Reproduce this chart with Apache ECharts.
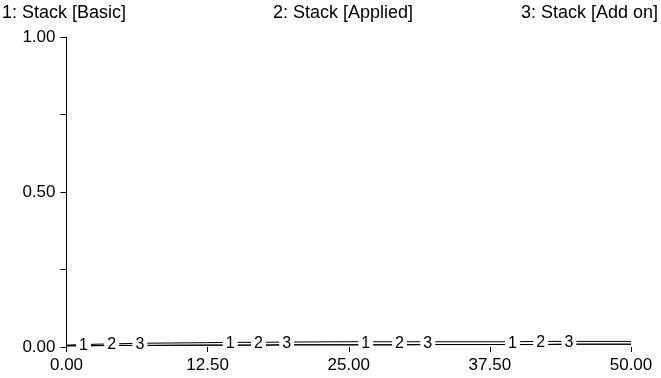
<!DOCTYPE html>
<html>
<head>
<meta charset="utf-8">
<script src="https://cdn.jsdelivr.net/npm/echarts@6/dist/echarts.min.js"></script>
<style>
  html, body { margin: 0; padding: 0; background: #fff; }
  #chart { width: 661px; height: 378px; }
</style>
</head>
<body>
<div id="chart"></div>
<script>
// Series names, shown in the header row as "n: name"
const seriesNames = ['Stack [Basic]', 'Stack [Applied]', 'Stack [Add on]'];

// Sample positions along the x axis
const xValues = [0, 1.5, 4, 6.5, 12.5, 14.5, 17, 19.5, 25, 26.5, 29.5, 32, 37.5, 39.5, 42, 44.5, 50];

// Values of each series at those positions
const basic   = [0.004, 0.004, 0.005, 0.005, 0.006, 0.006, 0.006, 0.007, 0.007, 0.007, 0.007, 0.008, 0.008, 0.008, 0.008, 0.009, 0.009];
const applied = [0.004, 0.004, 0.005, 0.005, 0.006, 0.006, 0.006, 0.007, 0.007, 0.007, 0.007, 0.008, 0.008, 0.008, 0.008, 0.009, 0.009];
const addOn   = [0.006, 0.008, 0.010, 0.012, 0.014, 0.015, 0.015, 0.016, 0.017, 0.017, 0.017, 0.017, 0.017, 0.017, 0.018, 0.018, 0.018];

// Where each series carries its inline number label
const labelAt = [
  [1.5, 14.5, 26.5, 39.5],
  [4, 17, 29.5, 42],
  [6.5, 19.5, 32, 44.5]
];

// Axis ticks
const xTicks = [0, 12.5, 25, 37.5, 50];
const yTicks = [0, 0.25, 0.5, 0.75, 1];
const yLabelled = [0, 0.5, 1];

const allSeries = [basic, applied, addOn];
const FONT = 'Liberation Sans, Arial, Helvetica, sans-serif';

const lineSeries = allSeries.map((vals, i) => ({
  type: 'line',
  name: seriesNames[i],
  data: xValues.map((x, k) => [x, vals[k]]),
  showSymbol: false,
  symbol: 'none',
  lineStyle: { color: '#000', width: 1 },
  z: 2,
  silent: true
}));

// Inline number labels, sitting between the lines with a white backing
const labelData = [];
labelAt.forEach((xs, i) => {
  xs.forEach(x => {
    const k = xValues.indexOf(x);
    const ys = allSeries.map(s => s[k]);
    const mid = (Math.min(...ys) + Math.max(...ys)) / 2;
    labelData.push({ value: [x, mid], num: String(i + 1) });
  });
});

const labelSeries = {
  type: 'scatter',
  data: labelData.map(d => ({ value: d.value, label: { formatter: d.num } })),
  symbol: 'circle',
  symbolSize: 1,
  itemStyle: { color: 'rgba(255,255,255,0)', opacity: 1 },
  z: 10,
  silent: true,
  label: {
    show: true,
    position: 'inside',
    color: '#000',
    opacity: 1,
    textBorderWidth: 0,
    fontFamily: FONT,
    fontSize: 16,
    lineHeight: 14,
    backgroundColor: '#fff',
    padding: [0, 3]
  }
};

const titles = seriesNames.map((n, i) => ({
  text: (i + 1) + ': ' + n,
  top: 4,
  padding: 0,
  textStyle: { fontFamily: FONT, fontSize: 18, fontWeight: 'normal', color: '#000' }
}));
titles[0].left = 2;
titles[1].left = 273;
titles[2].right = 3;

const chart = echarts.init(document.getElementById('chart'), null, { renderer: 'canvas' });
chart.setOption({
  animation: false,
  backgroundColor: '#fff',
  title: titles,
  grid: { left: 66.5, right: 30, top: 37, bottom: 31, containLabel: false },
  xAxis: {
    type: 'value',
    min: xTicks[0],
    max: xTicks[xTicks.length - 1],
    interval: xTicks[1] - xTicks[0],
    axisLine: { show: false },
    axisTick: { show: true, length: 5, lineStyle: { color: '#000', width: 1 } },
    splitLine: { show: false },
    axisLabel: {
      margin: 10,
      color: '#000',
      fontFamily: FONT,
      fontSize: 17,
      formatter: v => v.toFixed(2)
    }
  },
  yAxis: {
    type: 'value',
    min: yTicks[0],
    max: yTicks[yTicks.length - 1],
    interval: yTicks[1] - yTicks[0],
    axisLine: { show: true, lineStyle: { color: '#000', width: 1 } },
    axisTick: { show: true, length: 6, lineStyle: { color: '#000', width: 1 } },
    splitLine: { show: false },
    axisLabel: {
      margin: 11,
      color: '#000',
      fontFamily: FONT,
      fontSize: 17,
      formatter: v => yLabelled.some(t => Math.abs(t - v) < 1e-9) ? v.toFixed(2) : ''
    }
  },
  series: [...lineSeries, labelSeries]
});
</script>
</body>
</html>
